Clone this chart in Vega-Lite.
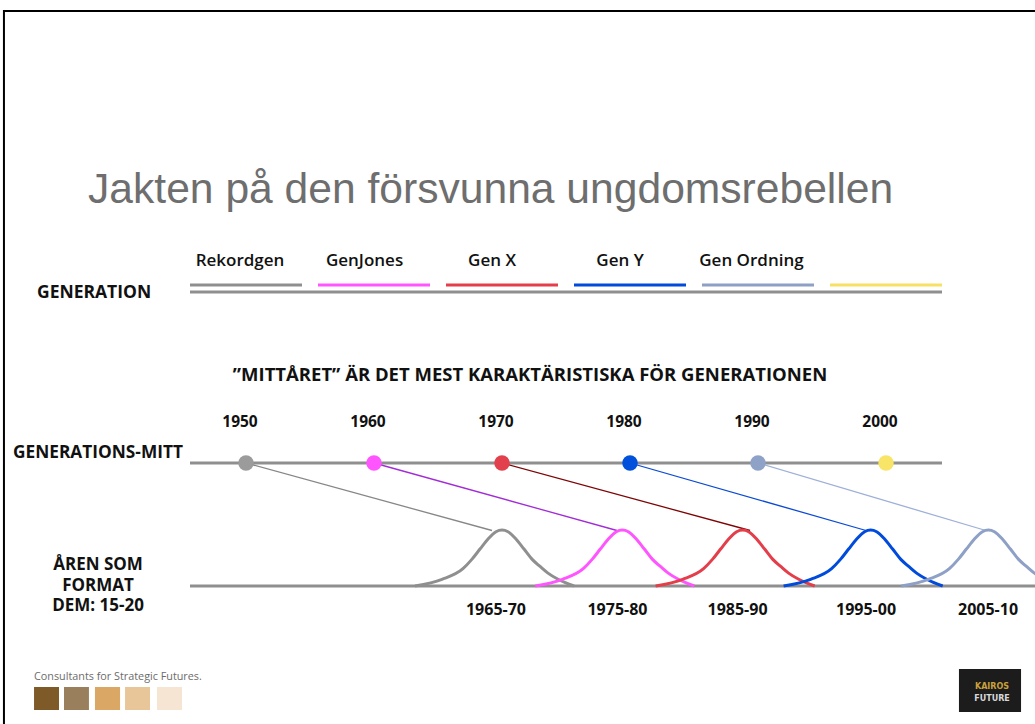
{
  "$schema": "https://vega.github.io/schema/vega-lite/v6.json",
  "width": 1035,
  "height": 724,
  "autosize": {"type": "fit", "contains": "padding"},
  "padding": 0,
  "background": "#ffffff",
  "config": {"view": {"stroke": null}},
  "resolve": {"scale": {"y": "independent", "color": "independent"}},
  "datasets": {
    "gens": [
      {"gen": "Rekordgen", "label": "Rekordgen", "mid": 1950, "labelX": 1949.53, "start": 1945.625, "end": 1954.375},
      {"gen": "GenJones", "label": "GenJones", "mid": 1960, "labelX": 1959.26, "start": 1955.625, "end": 1964.375},
      {"gen": "Gen X", "label": "Gen X", "mid": 1970, "labelX": 1969.22, "start": 1965.625, "end": 1974.375},
      {"gen": "Gen Y", "label": "Gen Y", "mid": 1980, "labelX": 1979.22, "start": 1975.625, "end": 1984.375},
      {"gen": "Gen Ordning", "label": "Gen Ordning", "mid": 1990, "labelX": 1989.49, "start": 1985.625, "end": 1994.375},
      {"gen": "Nästa", "label": "", "mid": 2000, "labelX": 1999.5, "start": 1995.625, "end": 2004.375}
    ],
    "links": [
      {"gen": "Rekordgen", "mid": 1950, "endX": 1969.22},
      {"gen": "GenJones", "mid": 1960, "endX": 1978.98},
      {"gen": "Gen X", "mid": 1970, "endX": 1989.38},
      {"gen": "Gen Y", "mid": 1980, "endX": 1998.44},
      {"gen": "Gen Ordning", "mid": 1990, "endX": 2007.8}
    ],
    "formative": [
      {"gen": "Rekordgen", "period": "1965-70", "center": 1969.53},
      {"gen": "GenJones", "period": "1975-80", "center": 1979.02},
      {"gen": "Gen X", "period": "1985-90", "center": 1988.4},
      {"gen": "Gen Y", "period": "1995-00", "center": 1998.44},
      {"gen": "Gen Ordning", "period": "2005-10", "center": 2007.97}
    ],
    "curves": [
      {"gen": "Rekordgen", "year": 1963.2, "w": 0},
      {"gen": "Rekordgen", "year": 1965.31, "w": 0.12},
      {"gen": "Rekordgen", "year": 1966.95, "w": 0.31},
      {"gen": "Rekordgen", "year": 1967.66, "w": 0.48},
      {"gen": "Rekordgen", "year": 1968.28, "w": 0.66},
      {"gen": "Rekordgen", "year": 1968.91, "w": 0.84},
      {"gen": "Rekordgen", "year": 1969.53, "w": 0.97},
      {"gen": "Rekordgen", "year": 1970.0, "w": 1},
      {"gen": "Rekordgen", "year": 1970.47, "w": 0.97},
      {"gen": "Rekordgen", "year": 1971.09, "w": 0.84},
      {"gen": "Rekordgen", "year": 1971.72, "w": 0.66},
      {"gen": "Rekordgen", "year": 1972.34, "w": 0.48},
      {"gen": "Rekordgen", "year": 1972.97, "w": 0.35},
      {"gen": "Rekordgen", "year": 1973.59, "w": 0.23},
      {"gen": "Rekordgen", "year": 1974.38, "w": 0.12},
      {"gen": "Rekordgen", "year": 1975.63, "w": 0},
      {"gen": "GenJones", "year": 1972.6, "w": 0},
      {"gen": "GenJones", "year": 1974.71, "w": 0.12},
      {"gen": "GenJones", "year": 1976.35, "w": 0.31},
      {"gen": "GenJones", "year": 1977.06, "w": 0.48},
      {"gen": "GenJones", "year": 1977.68, "w": 0.66},
      {"gen": "GenJones", "year": 1978.31, "w": 0.84},
      {"gen": "GenJones", "year": 1978.93, "w": 0.97},
      {"gen": "GenJones", "year": 1979.4, "w": 1},
      {"gen": "GenJones", "year": 1979.87, "w": 0.97},
      {"gen": "GenJones", "year": 1980.49, "w": 0.84},
      {"gen": "GenJones", "year": 1981.12, "w": 0.66},
      {"gen": "GenJones", "year": 1981.74, "w": 0.48},
      {"gen": "GenJones", "year": 1982.37, "w": 0.35},
      {"gen": "GenJones", "year": 1982.99, "w": 0.23},
      {"gen": "GenJones", "year": 1983.78, "w": 0.12},
      {"gen": "GenJones", "year": 1985.03, "w": 0},
      {"gen": "Gen X", "year": 1982.0, "w": 0},
      {"gen": "Gen X", "year": 1984.11, "w": 0.12},
      {"gen": "Gen X", "year": 1985.75, "w": 0.31},
      {"gen": "Gen X", "year": 1986.46, "w": 0.48},
      {"gen": "Gen X", "year": 1987.08, "w": 0.66},
      {"gen": "Gen X", "year": 1987.71, "w": 0.84},
      {"gen": "Gen X", "year": 1988.33, "w": 0.97},
      {"gen": "Gen X", "year": 1988.8, "w": 1},
      {"gen": "Gen X", "year": 1989.27, "w": 0.97},
      {"gen": "Gen X", "year": 1989.89, "w": 0.84},
      {"gen": "Gen X", "year": 1990.52, "w": 0.66},
      {"gen": "Gen X", "year": 1991.14, "w": 0.48},
      {"gen": "Gen X", "year": 1991.77, "w": 0.35},
      {"gen": "Gen X", "year": 1992.39, "w": 0.23},
      {"gen": "Gen X", "year": 1993.18, "w": 0.12},
      {"gen": "Gen X", "year": 1994.43, "w": 0},
      {"gen": "Gen Y", "year": 1992.0, "w": 0},
      {"gen": "Gen Y", "year": 1994.11, "w": 0.12},
      {"gen": "Gen Y", "year": 1995.75, "w": 0.31},
      {"gen": "Gen Y", "year": 1996.46, "w": 0.48},
      {"gen": "Gen Y", "year": 1997.08, "w": 0.66},
      {"gen": "Gen Y", "year": 1997.71, "w": 0.84},
      {"gen": "Gen Y", "year": 1998.33, "w": 0.97},
      {"gen": "Gen Y", "year": 1998.8, "w": 1},
      {"gen": "Gen Y", "year": 1999.27, "w": 0.97},
      {"gen": "Gen Y", "year": 1999.89, "w": 0.84},
      {"gen": "Gen Y", "year": 2000.52, "w": 0.66},
      {"gen": "Gen Y", "year": 2001.14, "w": 0.48},
      {"gen": "Gen Y", "year": 2001.77, "w": 0.35},
      {"gen": "Gen Y", "year": 2002.39, "w": 0.23},
      {"gen": "Gen Y", "year": 2003.18, "w": 0.12},
      {"gen": "Gen Y", "year": 2004.43, "w": 0},
      {"gen": "Gen Ordning", "year": 2001.2, "w": 0},
      {"gen": "Gen Ordning", "year": 2003.31, "w": 0.12},
      {"gen": "Gen Ordning", "year": 2004.95, "w": 0.31},
      {"gen": "Gen Ordning", "year": 2005.66, "w": 0.48},
      {"gen": "Gen Ordning", "year": 2006.28, "w": 0.66},
      {"gen": "Gen Ordning", "year": 2006.91, "w": 0.84},
      {"gen": "Gen Ordning", "year": 2007.53, "w": 0.97},
      {"gen": "Gen Ordning", "year": 2008.0, "w": 1},
      {"gen": "Gen Ordning", "year": 2008.47, "w": 0.97},
      {"gen": "Gen Ordning", "year": 2009.09, "w": 0.84},
      {"gen": "Gen Ordning", "year": 2009.72, "w": 0.66},
      {"gen": "Gen Ordning", "year": 2010.34, "w": 0.48},
      {"gen": "Gen Ordning", "year": 2010.97, "w": 0.35},
      {"gen": "Gen Ordning", "year": 2011.59, "w": 0.23},
      {"gen": "Gen Ordning", "year": 2012.38, "w": 0.12},
      {"gen": "Gen Ordning", "year": 2013.63, "w": 0}
    ],
    "swatches": [
      {"swatch": "s1", "from": 1933.44, "to": 1935.39},
      {"swatch": "s2", "from": 1935.78, "to": 1937.73},
      {"swatch": "s3", "from": 1938.2, "to": 1940.16},
      {"swatch": "s4", "from": 1940.55, "to": 1942.5},
      {"swatch": "s5", "from": 1943.05, "to": 1945.0}
    ]
  },
  "layer": [
    {
      "data": {"values": [{"edge": "top"}]},
      "mark": {"type": "rule", "color": "#000000", "strokeWidth": 2, "clip": true},
      "encoding": {
        "x": {"datum": 1931.09, "type": "quantitative", "scale": {"domain": [1930.78125, 2011.640625], "nice": false, "zero": false}, "axis": null},
        "x2": {"datum": 2011.64},
        "y": {"datum": 11, "type": "quantitative", "scale": {"domain": [0, 724], "reverse": true, "nice": false, "zero": false}, "axis": null}
      }
    },
    {
      "data": {"values": [{"edge": "left"}]},
      "mark": {"type": "rule", "color": "#000000", "strokeWidth": 2, "clip": true},
      "encoding": {
        "x": {"datum": 1931.09, "type": "quantitative", "scale": {"domain": [1930.78125, 2011.640625], "nice": false, "zero": false}, "axis": null},
        "y": {"datum": 10, "type": "quantitative", "scale": {"domain": [0, 724], "reverse": true, "nice": false, "zero": false}, "axis": null},
        "y2": {"datum": 724}
      }
    },
    {
      "data": {"values": [{"text": "Jakten på den försvunna ungdomsrebellen"}]},
      "mark": {"type": "text", "font": "Liberation Sans", "fontSize": 42.6, "color": "#6e6e6e", "align": "left", "baseline": "alphabetic"},
      "encoding": {
        "x": {"datum": 1937.66, "type": "quantitative", "scale": {"domain": [1930.78125, 2011.640625], "nice": false, "zero": false}, "axis": null},
        "y": {"datum": 203, "type": "quantitative", "scale": {"domain": [0, 724], "reverse": true, "nice": false, "zero": false}, "axis": null},
        "text": {"field": "text", "type": "nominal"}
      }
    },
    {
      "data": {"name": "gens"},
      "mark": {"type": "text", "font": "Open Sans", "fontSize": 17, "fontWeight": 600, "color": "#111111", "align": "center", "baseline": "alphabetic"},
      "encoding": {
        "x": {"field": "labelX", "type": "quantitative", "scale": {"domain": [1930.78125, 2011.640625], "nice": false, "zero": false}, "axis": null},
        "y": {"datum": 266, "type": "quantitative", "scale": {"domain": [0, 724], "reverse": true, "nice": false, "zero": false}, "axis": null},
        "text": {"field": "label", "type": "nominal"}
      }
    },
    {
      "data": {"name": "gens"},
      "mark": {"type": "rule", "strokeWidth": 3},
      "encoding": {
        "x": {"field": "start", "type": "quantitative", "scale": {"domain": [1930.78125, 2011.640625], "nice": false, "zero": false}, "axis": null},
        "x2": {"field": "end"},
        "y": {"datum": 285, "type": "quantitative", "scale": {"domain": [0, 724], "reverse": true, "nice": false, "zero": false}, "axis": null},
        "color": {"field": "gen", "type": "nominal", "legend": null, "scale": {"domain": ["Rekordgen", "GenJones", "Gen X", "Gen Y", "Gen Ordning", "Nästa"], "range": ["#8f8f8f", "#ff55ff", "#e33e4a", "#004bdc", "#8ea0c6", "#f8e162"]}}
      }
    },
    {
      "data": {"values": [{"line": "generation"}]},
      "mark": {"type": "rule", "strokeWidth": 3, "color": "#8f8f8f"},
      "encoding": {
        "x": {"datum": 1945.625, "type": "quantitative", "scale": {"domain": [1930.78125, 2011.640625], "nice": false, "zero": false}, "axis": null},
        "x2": {"datum": 2004.375},
        "y": {"datum": 292, "type": "quantitative", "scale": {"domain": [0, 724], "reverse": true, "nice": false, "zero": false}, "axis": null}
      }
    },
    {
      "data": {"values": [{"text": "GENERATION"}]},
      "mark": {"type": "text", "font": "Open Sans", "fontSize": 17.5, "fontWeight": "bold", "color": "#111111", "align": "left", "baseline": "alphabetic"},
      "encoding": {
        "x": {"datum": 1933.67, "type": "quantitative", "scale": {"domain": [1930.78125, 2011.640625], "nice": false, "zero": false}, "axis": null},
        "y": {"datum": 298, "type": "quantitative", "scale": {"domain": [0, 724], "reverse": true, "nice": false, "zero": false}, "axis": null},
        "text": {"field": "text", "type": "nominal"}
      }
    },
    {
      "data": {"values": [{"text": "”MITTÅRET” ÄR DET MEST KARAKTÄRISTISKA FÖR GENERATIONEN"}]},
      "mark": {"type": "text", "font": "Open Sans", "fontSize": 18.5, "fontWeight": "bold", "color": "#111111", "align": "center", "baseline": "alphabetic"},
      "encoding": {
        "x": {"datum": 1972.19, "type": "quantitative", "scale": {"domain": [1930.78125, 2011.640625], "nice": false, "zero": false}, "axis": null},
        "y": {"datum": 381, "type": "quantitative", "scale": {"domain": [0, 724], "reverse": true, "nice": false, "zero": false}, "axis": null},
        "text": {"field": "text", "type": "nominal"}
      }
    },
    {
      "data": {"name": "gens"},
      "mark": {"type": "text", "font": "Open Sans", "fontSize": 15.5, "fontWeight": "bold", "color": "#111111", "align": "center", "baseline": "alphabetic", "dx": -6},
      "encoding": {
        "x": {"field": "mid", "type": "quantitative", "scale": {"domain": [1930.78125, 2011.640625], "nice": false, "zero": false}, "axis": null},
        "y": {"datum": 427, "type": "quantitative", "scale": {"domain": [0, 724], "reverse": true, "nice": false, "zero": false}, "axis": null},
        "text": {"field": "mid", "type": "nominal"}
      }
    },
    {
      "data": {"values": [{"text": "GENERATIONS-MITT"}]},
      "mark": {"type": "text", "font": "Open Sans", "fontSize": 17.3, "fontWeight": "bold", "color": "#111111", "align": "left", "baseline": "alphabetic"},
      "encoding": {
        "x": {"datum": 1931.8, "type": "quantitative", "scale": {"domain": [1930.78125, 2011.640625], "nice": false, "zero": false}, "axis": null},
        "y": {"datum": 458, "type": "quantitative", "scale": {"domain": [0, 724], "reverse": true, "nice": false, "zero": false}, "axis": null},
        "text": {"field": "text", "type": "nominal"}
      }
    },
    {
      "data": {"values": [{"line": "timeline"}]},
      "mark": {"type": "rule", "strokeWidth": 3, "color": "#8f8f8f"},
      "encoding": {
        "x": {"datum": 1945.625, "type": "quantitative", "scale": {"domain": [1930.78125, 2011.640625], "nice": false, "zero": false}, "axis": null},
        "x2": {"datum": 2004.375},
        "y": {"datum": 463, "type": "quantitative", "scale": {"domain": [0, 724], "reverse": true, "nice": false, "zero": false}, "axis": null}
      }
    },
    {
      "data": {"name": "links"},
      "mark": {"type": "rule", "strokeWidth": 1.3},
      "encoding": {
        "x": {"field": "mid", "type": "quantitative", "scale": {"domain": [1930.78125, 2011.640625], "nice": false, "zero": false}, "axis": null},
        "x2": {"field": "endX"},
        "y": {"datum": 463, "type": "quantitative", "scale": {"domain": [0, 724], "reverse": true, "nice": false, "zero": false}, "axis": null},
        "y2": {"datum": 530.5},
        "color": {"field": "gen", "type": "nominal", "legend": null, "scale": {"domain": ["Rekordgen", "GenJones", "Gen X", "Gen Y", "Gen Ordning"], "range": ["#878787", "#a22cd6", "#7d0505", "#0a4ad4", "#9eb0d8"]}}
      }
    },
    {
      "data": {"name": "gens"},
      "mark": {"type": "point", "shape": "circle", "filled": true, "size": 240, "opacity": 1, "strokeWidth": 0},
      "encoding": {
        "x": {"field": "mid", "type": "quantitative", "scale": {"domain": [1930.78125, 2011.640625], "nice": false, "zero": false}, "axis": null},
        "y": {"datum": 463, "type": "quantitative", "scale": {"domain": [0, 724], "reverse": true, "nice": false, "zero": false}, "axis": null},
        "color": {"field": "gen", "type": "nominal", "legend": null, "scale": {"domain": ["Rekordgen", "GenJones", "Gen X", "Gen Y", "Gen Ordning", "Nästa"], "range": ["#9b9b9b", "#ff55ff", "#e2404c", "#0050dc", "#8ea2c8", "#f8e466"]}}
      }
    },
    {
      "data": {"values": [{"line": "formative"}]},
      "mark": {"type": "rule", "strokeWidth": 3, "color": "#8f8f8f", "clip": true},
      "encoding": {
        "x": {"datum": 1945.625, "type": "quantitative", "scale": {"domain": [1930.78125, 2011.640625], "nice": false, "zero": false}, "axis": null},
        "x2": {"datum": 2011.64},
        "y": {"datum": 586, "type": "quantitative", "scale": {"domain": [0, 724], "reverse": true, "nice": false, "zero": false}, "axis": null}
      }
    },
    {
      "data": {"name": "curves"},
      "mark": {"type": "line", "strokeWidth": 3, "interpolate": "monotone", "clip": true},
      "encoding": {
        "x": {"field": "year", "type": "quantitative", "scale": {"domain": [1930.78125, 2011.640625], "nice": false, "zero": false}, "axis": null},
        "y": {"field": "w", "type": "quantitative", "scale": {"domain": [-2.464, 10.464], "nice": false, "zero": false}, "axis": null},
        "color": {"field": "gen", "type": "nominal", "legend": null, "scale": {"domain": ["Rekordgen", "GenJones", "Gen X", "Gen Y", "Gen Ordning"], "range": ["#8f8f8f", "#ff55ff", "#e33e4a", "#004bdc", "#8ea0c6"]}}
      }
    },
    {
      "data": {"name": "formative"},
      "mark": {"type": "text", "font": "Open Sans", "fontSize": 16, "fontWeight": "bold", "color": "#111111", "align": "center", "baseline": "alphabetic"},
      "encoding": {
        "x": {"field": "center", "type": "quantitative", "scale": {"domain": [1930.78125, 2011.640625], "nice": false, "zero": false}, "axis": null},
        "y": {"datum": 615, "type": "quantitative", "scale": {"domain": [0, 724], "reverse": true, "nice": false, "zero": false}, "axis": null},
        "text": {"field": "period", "type": "nominal"}
      }
    },
    {
      "data": {"values": [{"text": "ÅREN SOM\nFORMAT\nDEM: 15-20"}]},
      "mark": {"type": "text", "font": "Open Sans", "fontSize": 17, "fontWeight": "bold", "color": "#111111", "align": "center", "baseline": "alphabetic", "lineBreak": "\n", "lineHeight": 20.5},
      "encoding": {
        "x": {"datum": 1938.44, "type": "quantitative", "scale": {"domain": [1930.78125, 2011.640625], "nice": false, "zero": false}, "axis": null},
        "y": {"datum": 570, "type": "quantitative", "scale": {"domain": [0, 724], "reverse": true, "nice": false, "zero": false}, "axis": null},
        "text": {"field": "text", "type": "nominal"}
      }
    },
    {
      "data": {"values": [{"text": "Consultants for Strategic Futures."}]},
      "mark": {"type": "text", "font": "Open Sans", "fontSize": 10.8, "color": "#6b6b6b", "align": "left", "baseline": "alphabetic"},
      "encoding": {
        "x": {"datum": 1933.44, "type": "quantitative", "scale": {"domain": [1930.78125, 2011.640625], "nice": false, "zero": false}, "axis": null},
        "y": {"datum": 680, "type": "quantitative", "scale": {"domain": [0, 724], "reverse": true, "nice": false, "zero": false}, "axis": null},
        "text": {"field": "text", "type": "nominal"}
      }
    },
    {
      "data": {"name": "swatches"},
      "mark": {"type": "rect"},
      "encoding": {
        "x": {"field": "from", "type": "quantitative", "scale": {"domain": [1930.78125, 2011.640625], "nice": false, "zero": false}, "axis": null},
        "x2": {"field": "to"},
        "y": {"datum": 687, "type": "quantitative", "scale": {"domain": [0, 724], "reverse": true, "nice": false, "zero": false}, "axis": null},
        "y2": {"datum": 710},
        "color": {"field": "swatch", "type": "nominal", "legend": null, "scale": {"domain": ["s1", "s2", "s3", "s4", "s5"], "range": ["#7d5a28", "#9a7f5c", "#dba764", "#e8c69a", "#f5e5d2"]}}
      }
    },
    {
      "data": {"values": [{"logo": "Kairos Future"}]},
      "mark": {"type": "rect", "color": "#1c1c1c"},
      "encoding": {
        "x": {"datum": 2005.7, "type": "quantitative", "scale": {"domain": [1930.78125, 2011.640625], "nice": false, "zero": false}, "axis": null},
        "x2": {"datum": 2010.55},
        "y": {"datum": 669, "type": "quantitative", "scale": {"domain": [0, 724], "reverse": true, "nice": false, "zero": false}, "axis": null},
        "y2": {"datum": 712}
      }
    },
    {
      "data": {"values": [{"text": "KAIROS"}]},
      "mark": {"type": "text", "font": "DejaVu Sans", "fontSize": 8, "fontWeight": "bold", "color": "#c9a13a", "align": "center", "baseline": "alphabetic"},
      "encoding": {
        "x": {"datum": 2008.28, "type": "quantitative", "scale": {"domain": [1930.78125, 2011.640625], "nice": false, "zero": false}, "axis": null},
        "y": {"datum": 688.5, "type": "quantitative", "scale": {"domain": [0, 724], "reverse": true, "nice": false, "zero": false}, "axis": null},
        "text": {"field": "text", "type": "nominal"}
      }
    },
    {
      "data": {"values": [{"text": "FUTURE"}]},
      "mark": {"type": "text", "font": "DejaVu Sans", "fontSize": 8, "fontWeight": "bold", "color": "#d8d8d8", "align": "center", "baseline": "alphabetic"},
      "encoding": {
        "x": {"datum": 2008.28, "type": "quantitative", "scale": {"domain": [1930.78125, 2011.640625], "nice": false, "zero": false}, "axis": null},
        "y": {"datum": 700.5, "type": "quantitative", "scale": {"domain": [0, 724], "reverse": true, "nice": false, "zero": false}, "axis": null},
        "text": {"field": "text", "type": "nominal"}
      }
    }
  ]
}
